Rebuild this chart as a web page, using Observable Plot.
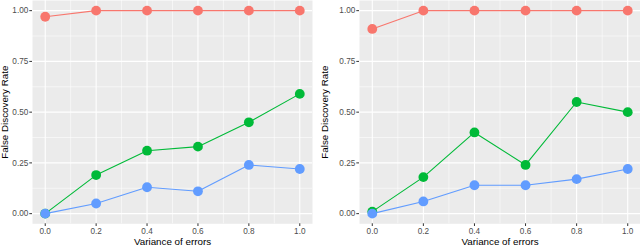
<!DOCTYPE html>
<html>
<head>
<meta charset="utf-8">
<script src="https://cdn.jsdelivr.net/npm/d3@7"></script>
<script src="https://cdn.jsdelivr.net/npm/@observablehq/plot@0.6"></script>
<style>
  html, body { margin: 0; padding: 0; background: #fff; }
  #wrap { display: flex; width: 640px; height: 246px; }
  svg { font-family: "Liberation Sans", Arial, sans-serif; }
</style>
</head>
<body>
<div id="wrap"></div>
<script>
// x values: variance of errors
const variance = [0, 0.2, 0.4, 0.6, 0.8, 1.0];
const seriesNames = ["Series 1", "Series 2", "Series 3"];
const seriesColors = ["#F8766D", "#00BA38", "#619CFF"];

// left panel
const leftRed   = [0.97, 1.00, 1.00, 1.00, 1.00, 1.00];
const leftGreen = [0.00, 0.19, 0.31, 0.33, 0.45, 0.59];
const leftBlue  = [0.00, 0.05, 0.13, 0.11, 0.24, 0.22];

// right panel
const rightRed   = [0.91, 1.00, 1.00, 1.00, 1.00, 1.00];
const rightGreen = [0.01, 0.18, 0.40, 0.24, 0.55, 0.50];
const rightBlue  = [0.00, 0.06, 0.14, 0.14, 0.17, 0.22];

const xTicks = [0, 0.2, 0.4, 0.6, 0.8, 1.0];
const yTicks = [0, 0.25, 0.5, 0.75, 1.0];
const xMinor = [0.1, 0.3, 0.5, 0.7, 0.9];
const yMinor = [0.125, 0.375, 0.625, 0.875];

const xTitle = "Variance of errors";
const yTitle = "False Discovery Rate";

function toRows(seriesArrays) {
  const rows = [];
  seriesArrays.forEach((vals, i) => {
    vals.forEach((v, j) => rows.push({x: variance[j], y: v, s: seriesNames[i]}));
  });
  return rows;
}

function panel(rows, marginLeft, marginRight) {
  return Plot.plot({
    width: 320,
    height: 246,
    marginLeft, marginRight,
    marginTop: 0,
    marginBottom: 22.7,
    style: {fontFamily: "Liberation Sans, Arial, sans-serif", background: "transparent"},
    x: {domain: [-0.05, 1.05]},
    y: {domain: [-0.05, 1.05]},
    color: {domain: seriesNames, range: seriesColors},
    marks: [
      Plot.frame({fill: "#EBEBEB", stroke: null}),
      Plot.ruleY(yMinor, {stroke: "#fff", strokeWidth: 0.55}),
      Plot.ruleX(xMinor, {stroke: "#fff", strokeWidth: 0.55}),
      Plot.ruleY(yTicks, {stroke: "#fff", strokeWidth: 1.1}),
      Plot.ruleX(xTicks, {stroke: "#fff", strokeWidth: 1.1}),
      Plot.axisX({ticks: xTicks, tickFormat: d3.format(".1f"), tickSize: 2.7, tickPadding: 1.5,
        fontSize: 8.2, color: "#4D4D4D", stroke: "#333", label: null}),
      Plot.axisY({ticks: yTicks, tickFormat: d3.format(".2f"), tickSize: 2.7, tickPadding: 1.5,
        fontSize: 8.2, color: "#4D4D4D", stroke: "#333", label: null}),
      Plot.text([xTitle], {frameAnchor: "bottom", lineAnchor: "middle", textAnchor: "middle",
        dy: 18, fontSize: 9.8, fill: "#000"}),
      Plot.text([yTitle], {frameAnchor: "left", rotate: -90, textAnchor: "middle", lineAnchor: "middle",
        dx: -(marginLeft - 4.8), fontSize: 9.8, fill: "#000"}),
      Plot.line(rows, {x: "x", y: "y", z: "s", stroke: "s", strokeWidth: 1.1}),
      Plot.dot(rows, {x: "x", y: "y", fill: "s", r: 4.9, stroke: null})
    ]
  });
}

const wrap = document.getElementById("wrap");
wrap.appendChild(panel(toRows([leftRed, leftGreen, leftBlue]), 32, 8));
wrap.appendChild(panel(toRows([rightRed, rightGreen, rightBlue]), 39, 0));
</script>
</body>
</html>
